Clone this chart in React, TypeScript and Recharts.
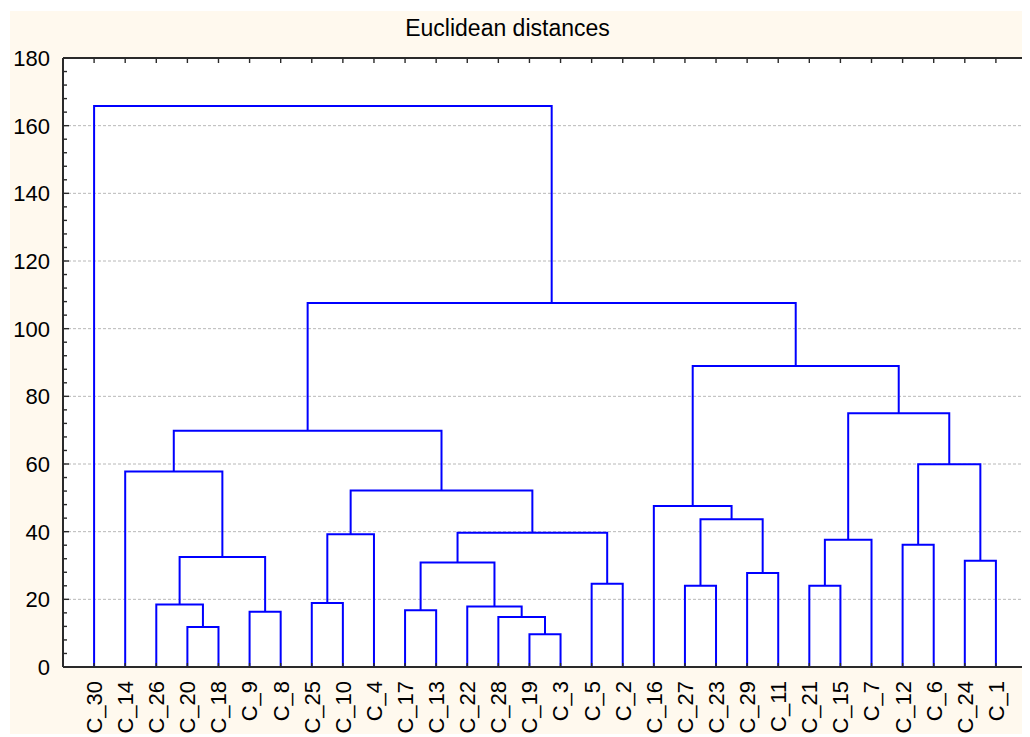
import React from 'react';
import { LineChart, Line, XAxis, YAxis, ReferenceLine, CartesianGrid } from 'recharts';

// Leaf order along the x axis
const leaves = [
  'C_30', 'C_14', 'C_26', 'C_20', 'C_18', 'C_9', 'C_8', 'C_25', 'C_10', 'C_4',
  'C_17', 'C_13', 'C_22', 'C_28', 'C_19', 'C_3', 'C_5', 'C_2', 'C_16', 'C_27',
  'C_23', 'C_29', 'C_11', 'C_21', 'C_15', 'C_7', 'C_12', 'C_6', 'C_24', 'C_1',
];

// Merges: left child, right child (leaf name or earlier merge index), linkage distance
const mergeLeft: (string | number)[] = [
  'C_20', 'C_26', 'C_9', 1, 'C_14', 'C_25', 5, 'C_17', 'C_19', 'C_28',
  'C_22', 7, 'C_5', 11, 6, 4, 'C_27', 'C_29', 16, 'C_16',
  'C_21', 20, 'C_12', 'C_24', 22, 21, 19, 15, 'C_30',
];
const mergeRight: (string | number)[] = [
  'C_18', 0, 'C_8', 2, 3, 'C_10', 'C_4', 'C_13', 'C_3', 8,
  9, 10, 'C_2', 12, 13, 14, 'C_23', 'C_11', 17, 18,
  'C_15', 'C_7', 'C_6', 'C_1', 23, 24, 25, 26, 27,
];
const mergeHeight: number[] = [
  11.8, 18.5, 16.3, 32.5, 57.8, 18.9, 39.2, 16.8, 9.7, 14.8,
  17.9, 30.9, 24.6, 39.7, 52.2, 69.8, 24.0, 27.8, 43.7, 47.6,
  24.0, 37.6, 36.1, 31.4, 59.9, 75.0, 89.0, 107.6, 165.8,
];

const yTicks = [0, 20, 40, 60, 80, 100, 120, 140, 160, 180];
const yMinorTicks = [
  0, 4, 8, 12, 16, 20, 24, 28, 32, 36, 40, 44, 48, 52, 56, 60, 64, 68, 72, 76,
  80, 84, 88, 92, 96, 100, 104, 108, 112, 116, 120, 124, 128, 132, 136, 140,
  144, 148, 152, 156, 160, 164, 168, 172, 176, 180,
];
const gridValues = [20, 40, 60, 80, 100, 120, 140, 160];
const leafTicks = leaves.map((_, i) => i + 1);

// Build the U-shaped link segments from the tree
const nodeX: number[] = [];
const refX = (r: string | number) => (typeof r === 'string' ? leaves.indexOf(r) + 1 : nodeX[r]);
const refH = (r: string | number) => (typeof r === 'string' ? 0 : mergeHeight[r]);
const segments: { x: number; y: number }[][] = [];
mergeHeight.forEach((h, i) => {
  const xl = refX(mergeLeft[i]);
  const xr = refX(mergeRight[i]);
  nodeX[i] = (xl + xr) / 2;
  segments.push([
    { x: xl, y: refH(mergeLeft[i]) },
    { x: xl, y: h },
    { x: xr, y: h },
    { x: xr, y: refH(mergeRight[i]) },
  ]);
});

const FONT = '"Liberation Sans", Arial, sans-serif';
const AXIS = '#2a2a2a';

const LeftTick = (props: any) => {
  const { x, y, payload } = props;
  const v = payload.value;
  const major = yTicks.includes(v);
  const ax = x + 13;
  return (
    <g>
      <line x1={ax} x2={ax + (major ? 6 : 4)} y1={y} y2={y} stroke={AXIS} strokeWidth={1.4} />
      {major && (
        <text x={x} y={y} dy="0.36em" textAnchor="end" fontSize={22} fontFamily={FONT} fill="#000">
          {v}
        </text>
      )}
    </g>
  );
};

const RightTick = (props: any) => {
  const { x, y } = props;
  return <line x1={x - 4} x2={x} y1={y} y2={y} stroke={AXIS} strokeWidth={1.4} />;
};

const TopTick = (props: any) => {
  const { x, y } = props;
  return <line x1={x} x2={x} y1={y} y2={y + 5} stroke={AXIS} strokeWidth={1.4} />;
};

const BottomTick = (props: any) => {
  const { x, y, payload } = props;
  const ax = y - 14;
  const label = leaves[payload.value - 1];
  return (
    <g>
      <line x1={x} x2={x} y1={ax} y2={ax - 4} stroke={AXIS} strokeWidth={1.4} />
      <text
        x={x}
        y={y}
        dy="0.36em"
        textAnchor="end"
        transform={`rotate(-90 ${x} ${y})`}
        fontSize={22}
        fontFamily={FONT}
        fill="#000"
      >
        {label}
      </text>
    </g>
  );
};

export default function App() {
  return (
    <div
      style={{
        position: 'relative',
        left: 2,
        top: 3,
        width: 1020,
        height: 726,
        background: '#FFF9EE',
        fontFamily: FONT,
      }}
    >
      <div
        style={{
          position: 'absolute',
          left: 497.5,
          top: 6,
          transform: 'translateX(-50%)',
          fontSize: 23,
          lineHeight: '23px',
          whiteSpace: 'nowrap',
          color: '#000',
        }}
      >
        Euclidean distances
      </div>
      <LineChart width={1020} height={726} margin={{ top: 46, right: 0, left: 0, bottom: 0 }}>
        <CartesianGrid horizontal={false} vertical={false} fill="#ffffff" />
        <XAxis
          dataKey="x"
          type="number"
          domain={[0, 31]}
          ticks={leafTicks}
          interval={0}
          height={70}
          tickSize={0}
          tickMargin={14}
          tick={<BottomTick />}
          axisLine={{ stroke: AXIS, strokeWidth: 2 }}
          allowDataOverflow
        />
        <XAxis
          xAxisId="top"
          orientation="top"
          dataKey="x"
          type="number"
          domain={[0, 31]}
          ticks={leafTicks}
          interval={0}
          height={1}
          tickSize={0}
          tickMargin={0}
          tick={<TopTick />}
          axisLine={{ stroke: AXIS, strokeWidth: 2 }}
          allowDataOverflow
        />
        <YAxis
          type="number"
          domain={[0, 180]}
          ticks={yMinorTicks}
          interval={0}
          width={53}
          tickSize={0}
          tickMargin={13}
          tick={<LeftTick />}
          axisLine={{ stroke: AXIS, strokeWidth: 2 }}
          allowDataOverflow
        />
        <YAxis
          yAxisId="r"
          orientation="right"
          type="number"
          domain={[0, 180]}
          ticks={yMinorTicks}
          interval={0}
          width={3}
          tickSize={0}
          tickMargin={0}
          tick={<RightTick />}
          axisLine={{ stroke: AXIS, strokeWidth: 2 }}
          allowDataOverflow
        />
        {gridValues.map((v) => (
          <ReferenceLine key={v} y={v} stroke="#b8b8b8" strokeDasharray="3 2" strokeWidth={1} />
        ))}
        {segments.map((seg, i) => (
          <Line
            key={i}
            data={seg}
            dataKey="y"
            type="linear"
            stroke="#0000ff"
            strokeWidth={2}
            dot={false}
            activeDot={false}
            isAnimationActive={false}
          />
        ))}
      </LineChart>
    </div>
  );
}
